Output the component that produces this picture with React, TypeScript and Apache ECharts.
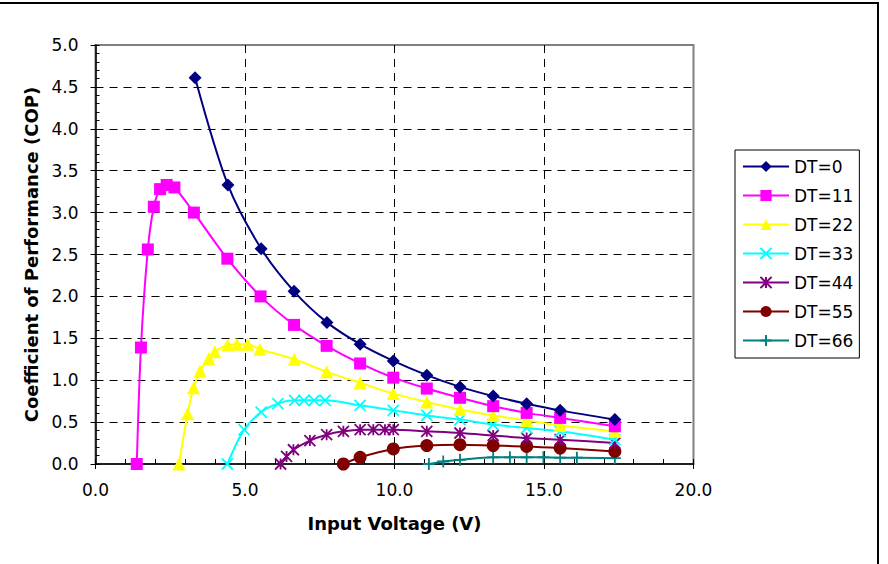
import React, { useEffect, useRef } from "react";
import * as echarts from "echarts";

// Input voltage (V) and COP values
const dt0X = [3.33, 4.43, 5.54, 6.64, 7.74, 8.85, 9.96, 11.08, 12.19, 13.3, 14.42, 15.54, 17.37];
const dt0Y = [4.61, 3.33, 2.57, 2.06, 1.69, 1.43, 1.23, 1.06, 0.92, 0.81, 0.72, 0.64, 0.53];

const dt11X = [1.38, 1.52, 1.75, 1.95, 2.16, 2.38, 2.64, 3.29, 4.41, 5.52, 6.64, 7.73, 8.85, 9.96, 11.08, 12.19, 13.3, 14.42, 15.54, 17.37];
const dt11Y = [0, 1.39, 2.56, 3.07, 3.28, 3.33, 3.3, 3.0, 2.45, 2.0, 1.66, 1.41, 1.2, 1.03, 0.9, 0.79, 0.69, 0.61, 0.55, 0.45];

const dt22X = [2.79, 3.08, 3.28, 3.5, 3.79, 3.99, 4.42, 4.73, 5.09, 5.5, 6.65, 7.73, 8.85, 9.96, 11.08, 12.19, 13.3, 14.42, 15.54, 17.37];
const dt22Y = [0, 0.6, 0.91, 1.11, 1.26, 1.34, 1.42, 1.43, 1.43, 1.37, 1.25, 1.1, 0.97, 0.84, 0.74, 0.65, 0.58, 0.52, 0.46, 0.39];

const dt33X = [4.41, 4.97, 5.54, 6.1, 6.66, 6.97, 7.31, 7.68, 8.85, 9.96, 11.08, 12.19, 13.3, 14.42, 15.54, 17.37];
const dt33Y = [0, 0.41, 0.62, 0.72, 0.76, 0.76, 0.76, 0.76, 0.7, 0.64, 0.58, 0.53, 0.47, 0.43, 0.39, 0.29];

const dt44X = [6.19, 6.39, 6.62, 7.17, 7.73, 8.29, 8.85, 9.29, 9.68, 9.96, 11.08, 12.19, 13.3, 14.42, 15.54, 17.37];
const dt44Y = [0, 0.09, 0.17, 0.28, 0.35, 0.39, 0.41, 0.41, 0.41, 0.41, 0.39, 0.37, 0.34, 0.31, 0.29, 0.25];

const dt55X = [8.29, 8.85, 9.96, 11.08, 12.19, 13.3, 14.42, 15.54, 17.37];
const dt55Y = [0, 0.08, 0.18, 0.22, 0.23, 0.22, 0.21, 0.19, 0.15];

const dt66X = [11.15, 11.63, 12.19, 13.3, 13.86, 14.42, 14.98, 15.54, 16.1, 17.37];
const dt66Y = [0, 0.03, 0.05, 0.08, 0.08, 0.08, 0.08, 0.075, 0.075, 0.07];

const seriesNames = ["DT=0", "DT=11", "DT=22", "DT=33", "DT=44", "DT=55", "DT=66"];
const seriesX = [dt0X, dt11X, dt22X, dt33X, dt44X, dt55X, dt66X];
const seriesY = [dt0Y, dt11Y, dt22Y, dt33Y, dt44Y, dt55Y, dt66Y];

const colors = ["#000080", "#FF00FF", "#FFFF00", "#00FFFF", "#800080", "#800000", "#008080"];
const symbols = [
  "diamond",
  "rect",
  "triangle",
  "path://M0,0L10,10M10,0L0,10",
  "path://M0,0L10,10M10,0L0,10M5,0L5,10",
  "circle",
  "path://M5,0L5,10M0,5L10,5",
];
const symbolSizes = [13, 12, 13, 11, 11, 13, 12];
const stroked = [false, false, false, true, true, false, true];

const FONT = "'DejaVu Sans', Verdana, sans-serif";

export default function App() {
  const ref = useRef<HTMLDivElement>(null);

  useEffect(() => {
    if (!ref.current) return;
    const chart = echarts.init(ref.current, undefined, { renderer: "svg" });

    const series = seriesNames.map((name, i) => ({
      name,
      type: "line",
      smooth: 0.3,
      data: seriesX[i].map((x, j) => [x, seriesY[i][j]]),
      symbol: symbols[i],
      symbolSize: symbolSizes[i],
      showAllSymbol: true,
      lineStyle: { color: colors[i], width: 2 },
      itemStyle: stroked[i]
        ? { color: colors[i], borderColor: colors[i], borderWidth: 1.8 }
        : { color: colors[i], borderWidth: 0 },
      clip: false,
      z: 10 - i,
    }));

    chart.setOption({
      animation: false,
      backgroundColor: "#ffffff",
      textStyle: { fontFamily: FONT },
      grid: {
        left: 95.5,
        top: 45,
        right: 194.5,
        bottom: 100,
        show: true,
        borderColor: "#808080",
        borderWidth: 2,
        backgroundColor: "transparent",
      },
      xAxis: [
        {
          type: "value",
          min: 0,
          max: 20,
          interval: 5,
          name: "Input Voltage (V)",
          nameLocation: "middle",
          nameGap: 50,
          nameTextStyle: { fontFamily: FONT, fontSize: 18, fontWeight: "bold", color: "#000" },
          axisLine: { lineStyle: { color: "#000", width: 1.5 } },
          axisTick: { show: true, inside: false, length: 5, lineStyle: { color: "#000" } },
          axisLabel: {
            fontFamily: FONT,
            fontSize: 17,
            color: "#000",
            margin: 17,
            formatter: (v: number) => v.toFixed(1),
          },
          splitLine: {
            show: true,
            showMinLine: false,
            showMaxLine: false,
            lineStyle: { color: "#000", type: [8, 6], width: 1 },
          },
        },
        {
          type: "value",
          min: 0,
          max: 20,
          interval: 1,
          position: "bottom",
          axisLine: { show: false },
          axisTick: { show: true, inside: true, length: 5, lineStyle: { color: "#000" } },
          axisLabel: { show: false },
          splitLine: { show: false },
        },
      ],
      yAxis: [
        {
          type: "value",
          min: 0,
          max: 5,
          interval: 0.5,
          name: "Coefficient of Performance (COP)",
          nameLocation: "middle",
          nameGap: 52,
          nameTextStyle: { fontFamily: FONT, fontSize: 18, fontWeight: "bold", color: "#000" },
          axisLine: { show: true, lineStyle: { color: "#000", width: 1.5 } },
          axisTick: { show: true, inside: false, length: 5, lineStyle: { color: "#000" } },
          axisLabel: {
            fontFamily: FONT,
            fontSize: 17,
            color: "#000",
            margin: 17,
            formatter: (v: number) => v.toFixed(1),
          },
          splitLine: {
            show: true,
            showMinLine: false,
            showMaxLine: false,
            lineStyle: { color: "#000", type: [8, 6], width: 1 },
          },
        },
        {
          type: "value",
          min: 0,
          max: 5,
          interval: 0.1,
          position: "left",
          axisLine: { show: false },
          axisTick: { show: true, inside: true, length: 4, lineStyle: { color: "#000" } },
          axisLabel: { show: false },
          splitLine: { show: false },
        },
      ],
      legend: {
        orient: "vertical",
        left: 735,
        top: 150,
        padding: [8, 6, 9, 7],
        itemGap: 12,
        itemWidth: 46,
        itemHeight: 14,
        borderColor: "#000",
        borderWidth: 1,
        backgroundColor: "#fff",
        textStyle: { fontFamily: FONT, fontSize: 17, color: "#000" },
        data: seriesNames,
      },
      graphic: [
        { type: "line", shape: { x1: 0, y1: 3, x2: 879, y2: 3 }, style: { stroke: "#000", lineWidth: 2 } },
        { type: "line", shape: { x1: 878, y1: 3, x2: 878, y2: 564 }, style: { stroke: "#000", lineWidth: 2 } },
      ],
      series,
    });

    return () => chart.dispose();
  }, []);

  return (
    <div
      ref={ref}
      style={{ position: "fixed", left: 0, top: 0, width: 888, height: 564 }}
    />
  );
}
